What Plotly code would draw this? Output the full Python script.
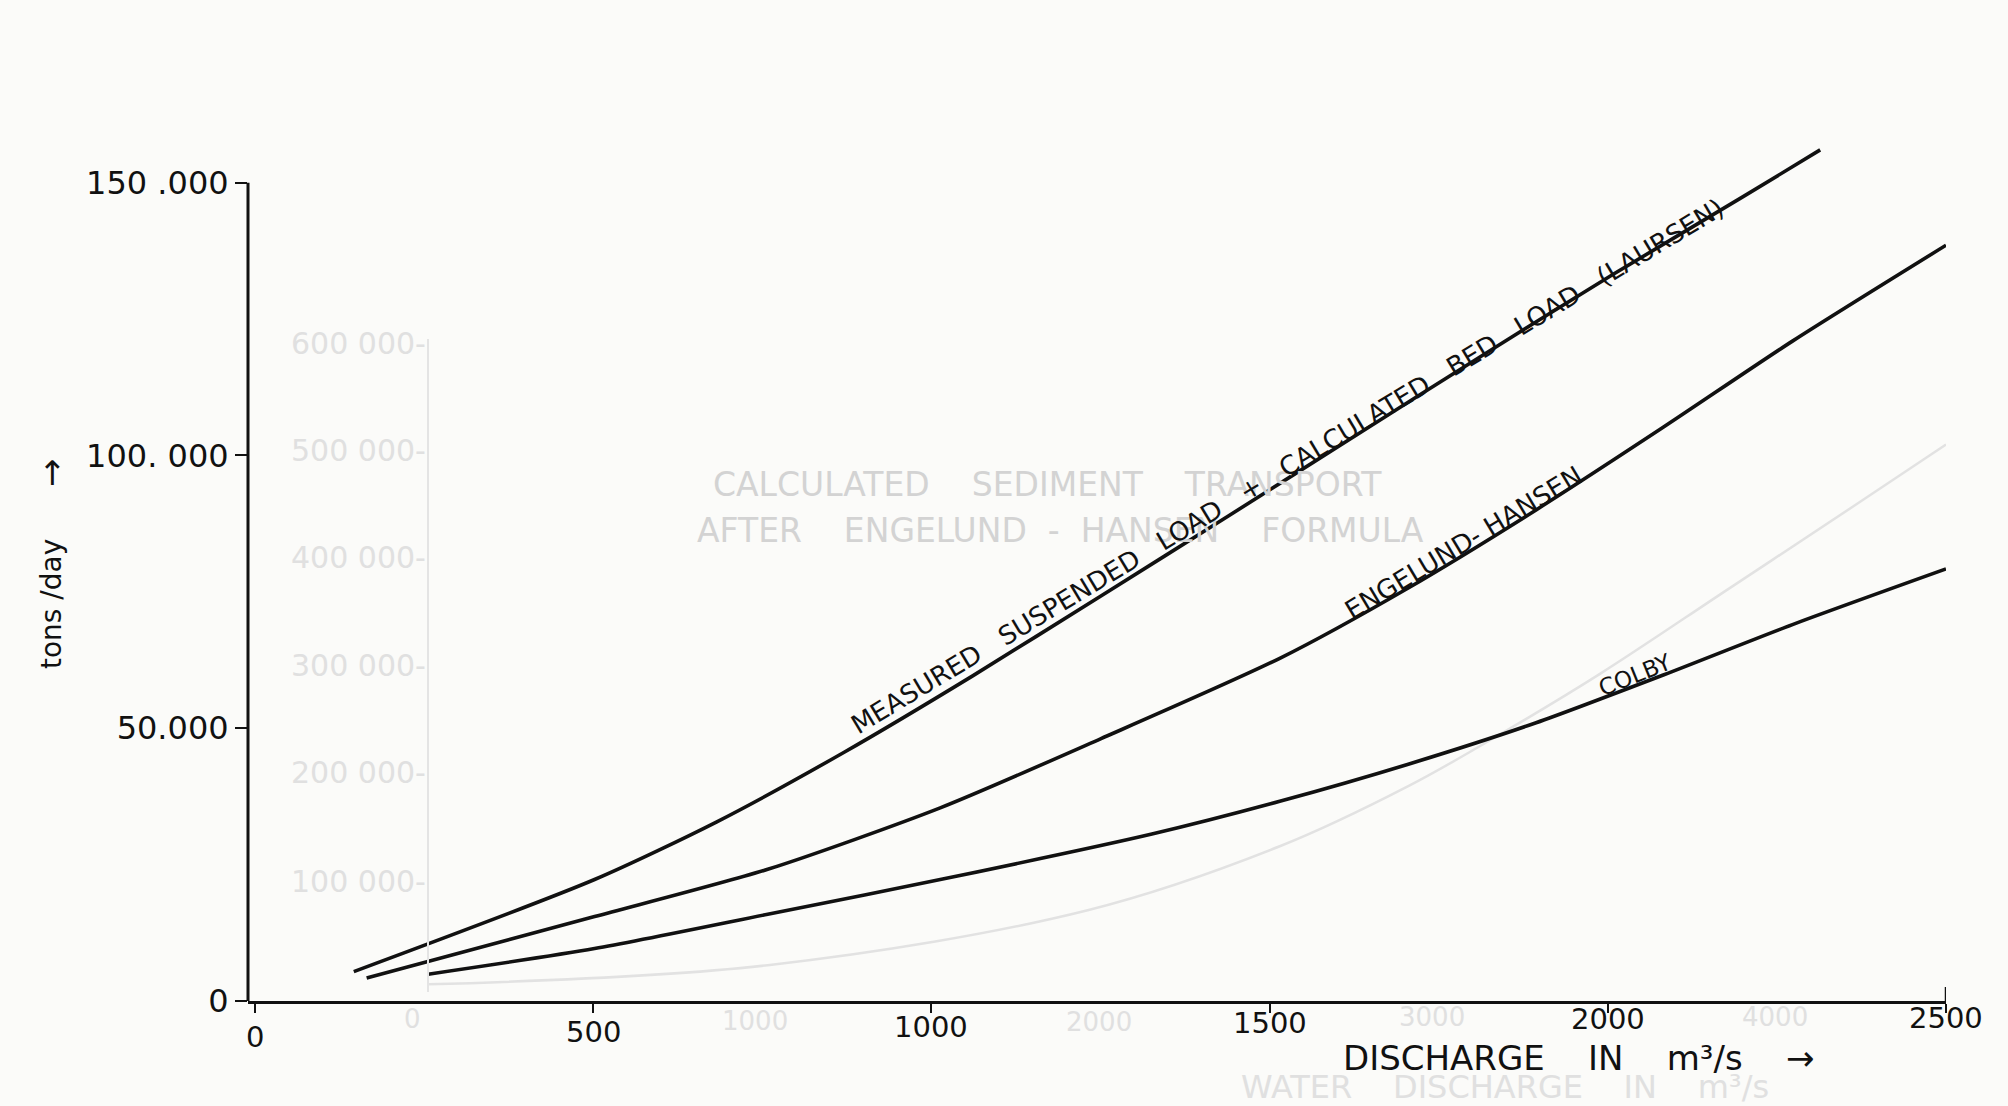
import plotly.graph_objects as go

# Discharge (m3/s) and sediment transport (tons/day)
measured_q = [146, 502, 682, 871, 1061, 1250, 1439, 1629, 1818, 2008, 2197, 2314]
measured_t = [5390, 22270, 32800, 45600, 59600, 74200, 88900, 103800, 118600, 133200, 147200, 156000]

engelund_q = [165, 502, 758, 1013, 1250, 1515, 1705, 1894, 2083, 2273, 2500]
engelund_t = [4220, 15470, 24140, 35400, 48050, 62810, 75710, 90010, 105240, 120950, 138530]

colby_q = [256, 502, 758, 1042, 1326, 1515, 1705, 1894, 2083, 2273, 2500]
colby_t = [4920, 9610, 15900, 23000, 30600, 36600, 43400, 51000, 59800, 69000, 79200]

# faint curve showing through from the facing sheet
under_q = [256, 758, 1231, 1515, 1705, 1839, 1989, 2178, 2367, 2500]
under_t = [3050, 6560, 16640, 28360, 39380, 48760, 60010, 75500, 91000, 102000]

x_ticks = [0, 500, 1000, 1500, 2000, 2500]
x_tick_text = ["0", "500", "1000", "1500", "2000", "2500"]
y_ticks = [0, 50000, 100000, 150000]
y_tick_text = ["0", "50.000", "100. 000", "150 .000"]
Y_TOP = 150000

labels = [
    ("MEASURED   SUSPENDED   LOAD   +   CALCULATED   BED   LOAD   (LAURSEN)", 1527, 98100, -31, 26),
    ("ENGELUND- HANSEN", 1786, 84000, -31, 26),
    ("COLBY", 2040, 59800, -22, 23),
]

W, H = 2008, 1106
L, R, T, B = 248, 62, 139, 105
PW, PH = W - L - R, H - T - B

INK = "#111111"
GHOST = "#d3d3d3"
GHOST_LIGHT = "#e0e0e0"
FONT = "DejaVu Sans"

# vertical pixel rows of the discharge tick labels (lettering drifts upward to the right)
x_label_rows = [1037, 1032, 1027, 1023, 1019, 1018]


def px(xp):
    return (xp - L) / PW


def py(yp):
    return (H - B - yp) / PH


fig = go.Figure()

fig.add_trace(go.Scatter(x=under_q, y=under_t, mode="lines",
                         line=dict(color="#e2e2e2", width=2.5, shape="spline"),
                         hoverinfo="skip", showlegend=False))

for q, t in [(measured_q, measured_t), (engelund_q, engelund_t), (colby_q, colby_t)]:
    fig.add_trace(go.Scatter(x=q, y=t, mode="lines",
                             line=dict(color=INK, width=3.6, shape="spline", smoothing=0.7),
                             hoverinfo="skip", showlegend=False))

annotations = []

# faint lettering from the facing sheet
ghost_right = [
    ("600 000-", 268), ("500 000-", 352), ("400 000-", 435),
    ("300 000-", 520), ("200 000-", 603), ("100 000-", 688),
]
for text, gy in ghost_right:
    annotations.append(dict(text=text, x=px(428), y=py(gy * 1.2806), xref="paper", yref="paper",
                            showarrow=False, xanchor="right", yanchor="middle",
                            font=dict(family=FONT, size=30, color=GHOST_LIGHT)))
ghost_items = [
    ("0", 412, 1019, 26, GHOST_LIGHT), ("1000", 755, 1021, 26, GHOST_LIGHT),
    ("2000", 1099, 1022, 26, GHOST_LIGHT), ("3000", 1432, 1017, 26, GHOST_LIGHT),
    ("4000", 1775, 1017, 26, GHOST_LIGHT),
    ("WATER    DISCHARGE    IN    m\u00b3/s", 1505, 1087, 32, GHOST_LIGHT),
    ("CALCULATED    SEDIMENT    TRANSPORT", 1047, 484, 33, GHOST),
    ("AFTER    ENGELUND  -  HANSEN    FORMULA", 1060, 530, 33, GHOST),
]
for text, gx, gy, size, col in ghost_items:
    annotations.append(dict(text=text, x=px(gx), y=py(gy), xref="paper", yref="paper",
                            showarrow=False, xanchor="center", yanchor="middle",
                            font=dict(family=FONT, size=size, color=col)))

# discharge tick labels
for val, text, row in zip(x_ticks, x_tick_text, x_label_rows):
    annotations.append(dict(text=text, x=val, y=py(row), xref="x", yref="paper",
                            showarrow=False, xanchor="center", yanchor="middle",
                            font=dict(family=FONT, size=29, color=INK)))

for text, q, t, ang, size in labels:
    annotations.append(dict(text=text, x=q, y=t, xref="x", yref="y", showarrow=False,
                            textangle=ang, xanchor="center", yanchor="middle",
                            font=dict(family=FONT, size=size, color=INK)))

annotations.append(dict(text="tons /day", x=px(51), y=py(604), xref="paper", yref="paper",
                        showarrow=False, textangle=-90, xanchor="center", yanchor="middle",
                        font=dict(family=FONT, size=28, color=INK)))
annotations.append(dict(text="\u2192", x=px(51), y=py(473), xref="paper", yref="paper",
                        showarrow=False, textangle=-90, xanchor="center", yanchor="middle",
                        font=dict(family=FONT, size=34, color=INK)))
annotations.append(dict(text="DISCHARGE    IN    m\u00b3/s    \u2192", x=px(1578), y=py(1058),
                        xref="paper", yref="paper", showarrow=False,
                        xanchor="center", yanchor="middle",
                        font=dict(family=FONT, size=34, color=INK)))

shapes = [
    # ghost axis of the facing sheet
    dict(type="line", xref="paper", yref="paper", x0=px(428), x1=px(428), y0=py(339), y1=py(992),
         line=dict(color="#e4e4e4", width=2)),
    # tonnage axis, stopping at the top tick
    dict(type="line", xref="paper", yref="y", x0=0, x1=0, y0=0, y1=Y_TOP,
         line=dict(color=INK, width=3)),
    # closing upward tick at the end of the discharge axis
    dict(type="line", xref="x", yref="paper", x0=2500, x1=2500, y0=0, y1=py(H - B - 14),
         line=dict(color=INK, width=2.5)),
]

fig.update_layout(
    width=W, height=H,
    margin=dict(l=L, r=R, t=T, b=B, pad=0),
    paper_bgcolor="#fbfbf9", plot_bgcolor="rgba(0,0,0,0)",
    showlegend=False,
    annotations=annotations,
    shapes=shapes,
    xaxis=dict(range=[-10.4, 2500], tickvals=x_ticks, showticklabels=False,
               showgrid=False, zeroline=False, showline=True, linecolor=INK, linewidth=3,
               ticks="outside", ticklen=9, tickwidth=2.4, tickcolor=INK),
    yaxis=dict(range=[0, 158000], tickvals=y_ticks, ticktext=y_tick_text,
               showgrid=False, zeroline=False, showline=False,
               ticks="outside", ticklen=12, tickwidth=2.4, tickcolor=INK,
               tickfont=dict(family=FONT, size=32, color=INK)),
)

fig.write_html("out.html")
